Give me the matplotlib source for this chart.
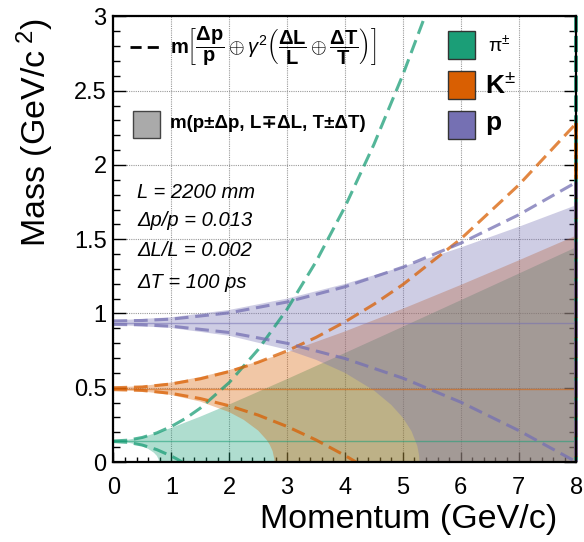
import numpy as np
import matplotlib
matplotlib.use("Agg")
import matplotlib.pyplot as plt
from matplotlib.patches import Rectangle
from matplotlib.ticker import MultipleLocator

plt.rcParams['font.family'] = ['Liberation Sans', 'DejaVu Sans']
plt.rcParams['mathtext.fontset'] = 'custom'
plt.rcParams['mathtext.rm'] = 'Liberation Sans'
plt.rcParams['mathtext.bf'] = 'Liberation Sans:bold'
plt.rcParams['mathtext.it'] = 'Liberation Sans:italic'
plt.rcParams['mathtext.sf'] = 'Liberation Sans'

# particles
names = [r'$\mathrm{\pi}^{\pm}$', r'$\mathbf{K}^{\pm}$', r'$\mathbf{p}$']
colors = ['#1b9e77', '#d95f02', '#7570b3']
masses = [0.1396, 0.4937, 0.9383]

# shaded bands m(p+-dp, L-+dL, T+-dT): upper / lower edge
band_hi_p = [
    [0, 0.2, 0.4, 0.6, 0.8, 1, 1.5, 2, 3, 4, 5, 6, 7, 8],
    [0, 0.5, 1, 1.5, 2, 2.5, 3, 4, 5, 6, 7, 8],
    [0, 1, 2, 3, 4, 5, 6, 7, 8],
]
band_hi_m = [
    [0.1417, 0.1470, 0.1598, 0.1789, 0.2027, 0.2297, 0.3053, 0.3872, 0.5585, 0.7340, 0.9111, 1.0892, 1.2679, 1.4469],
    [0.5011, 0.5119, 0.5355, 0.5721, 0.6197, 0.6760, 0.7390, 0.8791, 1.0317, 1.1919, 1.3571, 1.5257],
    [0.9524, 0.9746, 1.0239, 1.1003, 1.1990, 1.3150, 1.4441, 1.5832, 1.7299],
]
band_lo_p = [
    [0, 0.1, 0.2, 0.3, 0.4, 0.5, 0.6, 0.7, 0.75, 0.78, 0.787, 8],
    [0, 0.5, 1, 1.5, 2, 2.25, 2.5, 2.65, 2.7, 2.75, 2.78, 2.782, 8],
    [0, 1, 2, 3, 3.5, 4, 4.5, 4.8, 5, 5.15, 5.25, 5.28, 5.287, 8],
]
band_lo_m = [
    [0.1375, 0.1357, 0.1322, 0.1263, 0.1176, 0.1054, 0.0883, 0.0622, 0.0412, 0.0179, 0.0, 0.0],
    [0.4863, 0.4757, 0.4509, 0.4069, 0.3358, 0.2841, 0.2118, 0.1470, 0.1164, 0.0731, 0.018, 0.0, 0.0],
    [0.9242, 0.9024, 0.8500, 0.7560, 0.6881, 0.6003, 0.4818, 0.3847, 0.2983, 0.2073, 0.1079, 0.0465, 0.0, 0.0],
]

# dashed m +- dm curves
dash_hi_p = [
    [0, 0.25, 0.5, 0.75, 1.0, 1.25, 1.5, 2.0, 2.5, 3.0, 3.5, 4.0, 4.5, 5.0, 5.38],
    [0, 0.5, 1, 1.5, 2, 2.5, 3, 3.5, 4, 4.5, 5, 6, 7, 8],
    [0, 0.5, 1, 2, 3, 4, 5, 6, 7, 8],
]
dash_hi_m = [
    [0.1414, 0.1469, 0.1653, 0.1961, 0.2393, 0.2947, 0.3626, 0.5351, 0.7572, 1.0286, 1.349, 1.718, 2.138, 2.607, 3.0],
    [0.5001, 0.5055, 0.5256, 0.5602, 0.6089, 0.6716, 0.7483, 0.8390, 0.9435, 1.0621, 1.1946, 1.5015, 1.8641, 2.2824],
    [0.9505, 0.9529, 0.9620, 1.0044, 1.0774, 1.1800, 1.3120, 1.4734, 1.6642, 1.8844],
]
dash_lo_p = [
    [0, 0.25, 0.5, 0.75, 1.0, 1.1, 1.185],
    [0, 0.5, 1, 1.5, 2, 2.5, 3, 3.5, 4, 4.19],
    [0, 0.5, 1, 2, 3, 4, 5, 6, 7, 8],
]
dash_lo_m = [
    [0.1378, 0.1323, 0.1139, 0.0831, 0.0399, 0.0193, 0.0],
    [0.4873, 0.4819, 0.4619, 0.4272, 0.3785, 0.3158, 0.2391, 0.1484, 0.0439, 0.0],
    [0.9261, 0.9236, 0.9146, 0.8721, 0.7992, 0.6966, 0.5646, 0.4031, 0.2123, 0.0],
]

x_ticks = [0, 1, 2, 3, 4, 5, 6, 7, 8]
x_labels = ['0', '1', '2', '3', '4', '5', '6', '7', '8']
y_ticks = [0, 0.5, 1, 1.5, 2, 2.5, 3]
y_labels = ['0', '0.5', '1', '1.5', '2', '2.5', '3']

params = ['L = 2200 mm', '\u0394p/p = 0.013', '\u0394L/L = 0.002', '\u0394T = 100 ps']

fig = plt.figure(figsize=(5.84, 5.42), dpi=100)
ax = fig.add_axes([0.1943, 0.1476, 0.7928, 0.8220])
ax.set_xlim(0, 8)
ax.set_ylim(0, 3)

# bands
for i in range(3):
    xs = list(band_hi_p[i]) + list(band_lo_p[i])[::-1]
    ys = list(band_hi_m[i]) + list(band_lo_m[i])[::-1]
    ax.fill(xs, ys, color=colors[i], alpha=0.35, lw=0, zorder=2)

# nominal masses
for i in range(3):
    ax.axhline(masses[i], color=colors[i], lw=1.0, alpha=0.55, zorder=3)

# dashed resolution curves
dash = (0, (4.5, 2.2))
for i in range(3):
    ax.plot(dash_hi_p[i], dash_hi_m[i], color=colors[i], lw=2.2, alpha=0.75, ls=dash, zorder=4)
    ax.plot(dash_lo_p[i], dash_lo_m[i], color=colors[i], lw=2.2, alpha=0.75, ls=dash, zorder=4)
    # closing edge at p = 8
    ax.plot([8, 8], [min(dash_hi_m[i][-1], 3.0), 0], color=colors[i], lw=2.6,
            ls=(0, (4.5, 1.0)), zorder=5, clip_on=False)

# axes style
ax.set_xticks(x_ticks)
ax.set_xticklabels(x_labels)
ax.set_yticks(y_ticks)
ax.set_yticklabels(y_labels)
ax.xaxis.set_minor_locator(MultipleLocator(0.2))
ax.yaxis.set_minor_locator(MultipleLocator(0.1))
ax.tick_params(which='both', direction='in', top=False, right=True, labelsize=17, width=1)
ax.tick_params(axis='x', which='major', length=7, pad=11)
ax.tick_params(axis='x', which='minor', length=3.5)
ax.tick_params(axis='y', which='major', length=9, pad=5)
ax.tick_params(axis='y', which='minor', length=5)
ax.grid(True, which='major', color='#9a9a9a', ls=(0, (1, 1)), lw=0.8)
ax.set_axisbelow(True)
for s in ax.spines.values():
    s.set_linewidth(1.6)
    s.set_zorder(6)

fig.text(0.060, 0.966, 'Mass (GeV/c$^{\\ 2}$)', rotation=90, ha='center', va='top', fontsize=24.5)
fig.text(0.954, 0.0424, 'Momentum (GeV/c)', ha='right', va='center', fontsize=24.5)

# legend: formula
ax.plot([0.036, 0.100], [0.932, 0.932], transform=ax.transAxes, color='k', lw=2.0,
        ls=(0, (4, 2.2)), zorder=7)
ax.text(0.122, 0.932,
        r'$\mathbf{m}\left[\dfrac{\mathbf{\Delta p}}{\mathbf{p}}\oplus\gamma^{2}'
        r'\left(\dfrac{\mathbf{\Delta L}}{\mathbf{L}}\oplus\dfrac{\mathbf{\Delta T}}{\mathbf{T}}\right)\right]$',
        transform=ax.transAxes, ha='left', va='center', fontsize=14.5, zorder=7)
ax.add_patch(Rectangle((0.042, 0.727), 0.058, 0.0606, transform=ax.transAxes,
                       facecolor='#aaaaaa', edgecolor='#444444', lw=1.0, zorder=7))
ax.text(0.122, 0.759, 'm(p\u00b1\u0394p, L\u2213\u0394L, T\u00b1\u0394T)', transform=ax.transAxes,
        ha='left', va='center', fontsize=13.5, fontweight='bold', zorder=7)

for j, t in enumerate(params):
    ax.text(0.051, [0.606, 0.541, 0.474, 0.404][j], t, transform=ax.transAxes,
            ha='left', va='center', fontsize=14.5, style='italic', zorder=7)

# legend: species
sq_y = [0.9046, 0.8148, 0.7250]
lab_x = [0.809, 0.802, 0.802]
lab_size = [14, 19, 19]
for i in range(3):
    ax.add_patch(Rectangle((0.722, sq_y[i]), 0.059, 0.0629, transform=ax.transAxes,
                           facecolor=colors[i], edgecolor='#333333', lw=1.0, zorder=7))
    ax.text(lab_x[i], sq_y[i] + 0.031, names[i], transform=ax.transAxes,
            ha='left', va='center', fontsize=lab_size[i], zorder=7)

fig.savefig('out.png', dpi=100)
